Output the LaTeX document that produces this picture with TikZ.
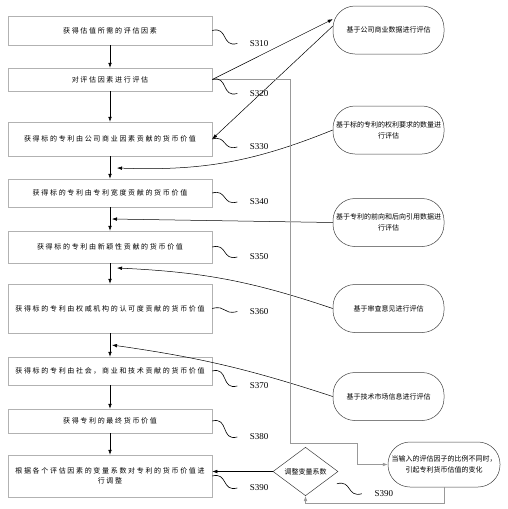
\documentclass[tikz,border=0pt]{standalone}
\usepackage{fontspec}
\setmainfont{Liberation Serif}
\newfontfamily\cjk{Noto Sans CJK SC}
\newfontfamily\cjkwide[LetterSpace=24]{Noto Sans CJK SC}
\usetikzlibrary{shapes.geometric, arrows.meta}
\tikzset{
  stepbox/.style={draw=gray!60, minimum width=204pt, inner sep=0pt, align=center,
    font=\cjkwide\fontsize{7pt}{10pt}\selectfont},
  evalbox/.style={draw=black!75, rounded corners=22pt, minimum width=111pt,
    minimum height=48pt, inner sep=0pt, align=center, font=\cjk\fontsize{7pt}{11pt}\selectfont},
  wave/.style={line width=0.6pt, out=15, in=195, looseness=1.5}
}
\begin{document}
\begin{tikzpicture}[x=1pt, y=1pt, >={Latex[length=5pt, width=3.6pt]}, line width=0.5pt]
    \useasboundingbox (0,0) rectangle (508,-509);
    % Schritte
    \node[stepbox, minimum height=29pt] (b1) at (110,-30.5) {获得估值所需的评估因素};
    \node[stepbox, minimum height=23pt] (b2) at (110,-79.5) {对评估因素进行评估};
    \node[stepbox, minimum height=34pt] (b3) at (110,-139) {获得标的专利由公司商业因素贡献的货币价值};
    \node[stepbox, minimum height=28pt] (b4) at (110,-193) {获得标的专利由专利宽度贡献的货币价值};
    \node[stepbox, minimum height=32pt] (b5) at (110,-247) {获得标的专利由新颖性贡献的货币价值};
    \node[stepbox, minimum height=49pt] (b6) at (110,-308.5) {获得标的专利由权威机构的认可度贡献的货币价值};
    \node[stepbox, minimum height=28pt] (b7) at (110,-371) {获得标的专利由社会，商业和技术贡献的货币价值};
    \node[stepbox, minimum height=24pt] (b8) at (110,-421) {获得专利的最终货币价值};
    \node[stepbox, minimum height=42pt] (b9) at (110,-476) {根据各个评估因素的变量系数对专利的货币价值进\\行调整};
    % Bewertungen
    \node[evalbox] (e1) at (388.5,-30) {基于公司商业数据进行评估};
    \node[evalbox] (e2) at (388.5,-130) {基于标的专利的权利要求的数量进\\行评估};
    \node[evalbox] (e3) at (388.5,-222.5) {基于专利的前向和后向引用数据进\\行评估};
    \node[evalbox] (e4) at (388.5,-308.5) {基于审查意见进行评估};
    \node[evalbox] (e5) at (388.5,-396.5) {基于技术市场信息进行评估};
    \node[evalbox, minimum width=112pt, minimum height=45pt] (e6) at (444,-464.5)
        {当输入的评估因子的比例不同时，\\引起专利货币估值的变化};
    \node[diamond, draw=black!75, minimum width=65pt, minimum height=37pt, inner sep=0pt,
        font=\cjk\fontsize{7pt}{9pt}\selectfont] (dia) at (305.5,-471.5) {调整变量系数};
    % Pfeile zwischen den Schritten
    \foreach \a/\b in {b1/b2, b2/b3, b3/b4, b4/b5, b5/b6, b6/b7, b7/b8, b8/b9}
        \draw[->] (\a.south) -- (\b.north);
    % Einmuendungen
    \coordinate (m34) at (117,-168);
    \coordinate (m45) at (112,-219);
    \coordinate (m56) at (117,-268);
    \coordinate (m67) at (112,-345);
    \draw[->] (b2.east) -- (e1.169);
    \draw[->] (e1.176) -- (b3.east);
    \draw[->] (e2.west) to[bend left=12] (m34);
    \draw[->] (e3.west) -- (m45);
    \draw[->] (e4.west) to[bend right=8] (m56);
    \draw[->] (e5.west) to[bend right=5] (m67);
    % Rueckfuehrung
    \draw[gray!80, ->] (b2.east) -- ++(78,0) |- (357,-443) |- (e6.west);
    \draw[gray!80, ->] (e6.south) -- ++(0,-16) -| (dia.south);
    \draw[->] (dia.west) -- (dia.west -| b9.east);
    % Schrittnummern
    \foreach \b/\dy/\s in {b1/-13/S310, b2/-14/S320, b3/-8/S330, b4/-9/S340, b5/-10/S350,
        b6/-3/S360, b7/-15/S370, b8/-16/S380, b9/-12/S390}
        \draw[wave] (\b.east) to ++(25,\dy) node[right=9pt, font=\fontsize{9pt}{9pt}\selectfont] {\s};
    \draw[wave] (dia.south east) ++(15,0) to ++(25,-10) node[right=9pt, font=\fontsize{9pt}{9pt}\selectfont] {S390};
\end{tikzpicture}
\end{document}
